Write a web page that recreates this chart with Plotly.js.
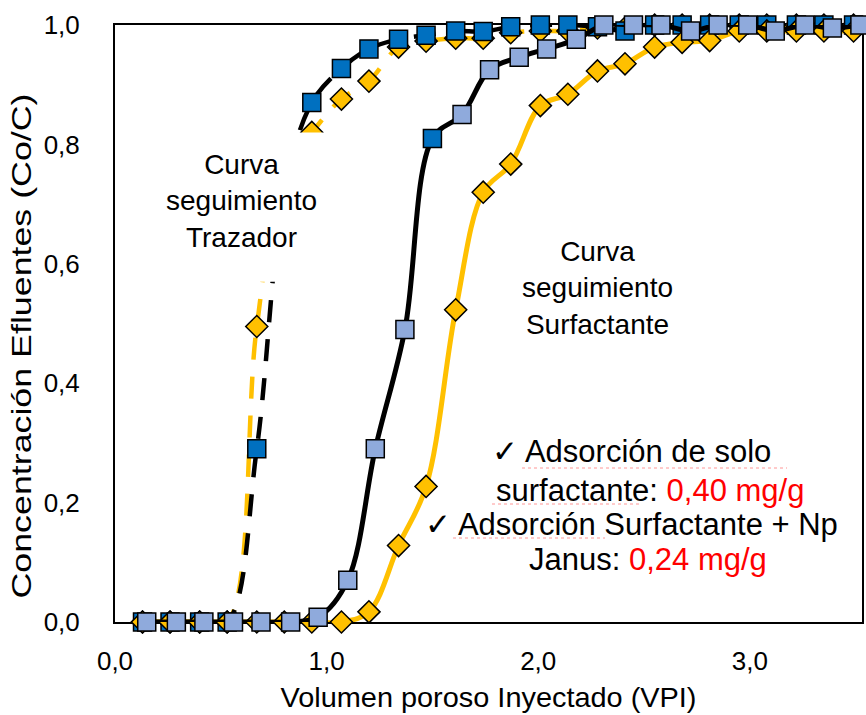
<!DOCTYPE html>
<html>
<head>
<meta charset="utf-8">
<script src="https://cdn.plot.ly/plotly-3.0.1.min.js"></script>
<style>html,body{margin:0;padding:0;background:#fff}</style>
</head>
<body>
<div id="chart" style="width:866px;height:715px"></div>
<script>
// Volumen poroso inyectado (VPI) de las curvas de trazador y de surfactante + Np Janus
const vpiTrazador = [0.13, 0.26, 0.40, 0.53, 0.67, 0.80, 0.93, 1.07, 1.20, 1.34, 1.47, 1.61, 1.74,
                     1.87, 2.01, 2.14, 2.28, 2.41, 2.55, 2.68, 2.81, 2.95, 3.08, 3.22, 3.35, 3.49];
// Trazador, ensayo surfactante + Np (amarillo, línea discontinua)
const cTrazadorNp = [0, 0, 0, 0, 0.495, 0.76, 0.82, 0.876, 0.906, 0.963, 0.973, 0.978, 0.978,
                     0.987, 0.99, 0.99, 0.995, 0.995, 1.0, 1.0, 1.0, 1.0, 1.0, 1.0, 1.0, 1.0];
// Trazador, ensayo solo surfactante (azul, línea negra discontinua)
const cTrazadorSurf = [0, 0, 0, 0, 0.29, 0.72, 0.87, 0.927, 0.96, 0.976, 0.983, 0.99, 0.989,
                       0.997, 1.0, 1.0, 0.997, 0.99, 1.0, 1.0, 1.0, 1.0, 1.0, 1.0, 1.0, 1.0];
// Surfactante + Np Janus (amarillo, línea continua)
const cSurfNp = [0, 0, 0, 0, 0, 0, 0, 0, 0.017, 0.128, 0.227, 0.523, 0.72,
                 0.767, 0.865, 0.884, 0.923, 0.935, 0.963, 0.971, 0.974, 0.99, 0.99, 0.99, 0.99, 0.99];
// Solo surfactante (cuadros celestes, línea negra continua)
const vpiSurf = [0.15, 0.29, 0.42, 0.56, 0.69, 0.83, 0.96, 1.10, 1.23, 1.37, 1.50, 1.64, 1.77,
                 1.91, 2.04, 2.18, 2.31, 2.45, 2.58, 2.72, 2.85, 2.99, 3.12, 3.26, 3.39, 3.52];
const cSurf = [0, 0, 0, 0, 0, 0, 0.008, 0.07, 0.29, 0.49, 0.81, 0.85, 0.925,
               0.946, 0.96, 0.976, 1.0, 1.0, 1.0, 0.99, 1.0, 1.0, 0.99, 1.0, 0.995, 1.0];

const AMARILLO = '#FFC000', AZUL = '#0070C0', CELESTE = '#8FAADC';
const FONT = 'Liberation Sans, Arial, sans-serif';

// one point of the surfactant series is highlighted in dark blue
const coloresSurf = cSurf.map((v, i) => i === 10 ? AZUL : CELESTE);

const borde = {color: '#000', width: 1.5};
const traces = [
  {x: vpiTrazador, y: cTrazadorNp, mode: 'lines+markers', cliponaxis: false,
   line: {color: AMARILLO, width: 4.5, dash: '22px,17px', shape: 'spline', smoothing: 1},
   marker: {symbol: 'diamond', size: 17, color: AMARILLO, line: borde}},
  {x: vpiTrazador, y: cTrazadorSurf, mode: 'lines+markers', cliponaxis: false,
   line: {color: '#000', width: 4.5, dash: '22px,17px', shape: 'spline', smoothing: 1},
   marker: {symbol: 'square', size: 18, color: AZUL, line: borde}},
  {x: vpiTrazador, y: cSurfNp, mode: 'lines+markers', cliponaxis: false,
   line: {color: AMARILLO, width: 5, shape: 'spline', smoothing: 1},
   marker: {symbol: 'diamond', size: 17, color: AMARILLO, line: borde}},
  {x: vpiSurf, y: cSurf, mode: 'lines+markers', cliponaxis: false,
   line: {color: '#000', width: 5, shape: 'spline', smoothing: 1},
   marker: {symbol: 'square', size: 18, color: coloresSurf, line: borde}}
];

const txt = (text, x, y, size) => ({
  text: text, x: x, y: y, xref: 'x', yref: 'y', showarrow: false,
  xanchor: 'center', yanchor: 'middle', align: 'center',
  font: {family: FONT, size: size, color: '#000'}
});

const rojo = s => '<span style="color:#FF0000">' + s + '</span>';
const subrayado = (x0, x1, y) => ({
  type: 'line', xref: 'paper', yref: 'paper',
  x0: (x0 - 115) / 747, x1: (x1 - 115) / 747, y0: (622 - y) / 597, y1: (622 - y) / 597,
  line: {color: 'rgba(255,80,80,0.6)', width: 1, dash: 'dot'}
});

const layout = {
  width: 866, height: 715,
  margin: {l: 115, r: 4, t: 25, b: 93},
  paper_bgcolor: '#fff', plot_bgcolor: '#fff',
  showlegend: false,
  separators: ',.',
  font: {family: FONT, color: '#000'},
  xaxis: {
    range: [0, 3.53], tick0: 0, dtick: 1, tickformat: '.1f',
    showgrid: false, zeroline: false, showline: true, mirror: true,
    linecolor: '#000', linewidth: 2, ticks: '', ticklabelstandoff: 15,
    layer: 'below traces',
    tickfont: {family: FONT, size: 26, color: '#000'},
    title: {text: 'Volumen poroso Inyectado (VPI)', standoff: 12,
            font: {family: FONT, size: 28, color: '#000'}}
  },
  yaxis: {
    range: [0, 1], tick0: 0, dtick: 0.2, tickformat: '.1f',
    showgrid: false, zeroline: false, showline: true, mirror: true,
    linecolor: '#000', linewidth: 2, ticks: '', ticklabelstandoff: 28,
    layer: 'below traces',
    tickfont: {family: FONT, size: 26, color: '#000'},
    title: {text: 'Concentración Efluentes (Co/C)', standoff: 4,
            font: {family: FONT, size: 28, color: '#000'}}
  },
  shapes: [
    // white label box laid over the tracer curves
    {type: 'rect', xref: 'x', yref: 'y', x0: 0.24, x1: 0.99, y0: 0.57, y1: 0.82,
     fillcolor: '#fff', line: {width: 0}, layer: 'above'},
    // spell-check underlines
    subrayado(522, 787, 468),
    subrayado(492, 642, 504),
    subrayado(453, 605, 538)
  ],
  annotations: [
    txt('Curva<br>seguimiento<br>Trazador', 0.60, 0.705, 28),
    txt('Curva<br>seguimiento<br>Surfactante', 2.28, 0.56, 28),
    txt('✓ Adsorción de solo', 2.44, 0.285, 31),
    txt('surfactante: ' + rojo('0,40 mg/g'), 2.53, 0.221, 31),
    txt('✓ Adsorción Surfactante + Np', 2.44, 0.163, 31),
    txt('Janus: ' + rojo('0,24 mg/g'), 2.52, 0.104, 31)
  ]
};

// stretch the axis titles to their drawn lengths
function ajustarTitulos() {
  const yt = document.querySelector('text.ytitle');
  if (yt) {
    const x = yt.getAttribute('x');
    yt.setAttribute('y', 346);
    yt.setAttribute('transform', 'rotate(-90,' + x + ',346)');
    yt.setAttribute('textLength', 505);
    yt.setAttribute('lengthAdjust', 'spacingAndGlyphs');
  }
  const xt = document.querySelector('text.xtitle');
  if (xt) {
    xt.setAttribute('textLength', 416);
    xt.setAttribute('lengthAdjust', 'spacingAndGlyphs');
  }
}

Plotly.newPlot('chart', traces, layout, {staticPlot: true, displayModeBar: false})
  .then(ajustarTitulos);
</script>
</body>
</html>
